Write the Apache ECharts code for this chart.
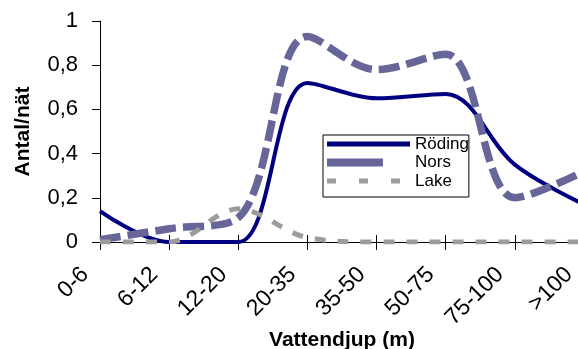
<!DOCTYPE html>
<html>
<head>
<meta charset="utf-8">
<script src="https://cdn.jsdelivr.net/npm/echarts@6/dist/echarts.min.js"></script>
<style>
  html, body { margin: 0; padding: 0; background: #fff; }
  #chart { width: 578px; height: 349px; }
</style>
</head>
<body>
<div id="chart"></div>
<script>
// Catch per net by water depth class
const depthClasses = ['0-6', '6-12', '12-20', '20-35', '35-50', '50-75', '75-100', '>100'];
const roding = [0.14, 0, 0, 0.72, 0.65, 0.67, 0.35, 0.17];
const nors   = [0.01, 0.06, 0.11, 0.93, 0.78, 0.85, 0.20, 0.32];
const lake   = [0, 0, 0.15, 0.02, 0, 0, 0, 0];
const yTickLabels = ['0', '0,2', '0,4', '0,6', '0,8', '1'];

const FONT = 'Arial, "Liberation Sans", sans-serif';
const COLORS = { roding: '#000080', nors: '#666699', lake: '#9c9c9c' };
const chart = echarts.init(document.getElementById('chart'), null, { renderer: 'canvas' });

chart.setOption({
  animation: false,
  backgroundColor: '#fff',
  textStyle: { fontFamily: FONT, color: '#000' },
  grid: { left: 100, top: 21, width: 484, height: 221, containLabel: false, outerBoundsMode: 'none' },
  legend: {
    orient: 'vertical',
    left: 323,
    top: 135,
    itemWidth: 83,
    itemHeight: 8,
    itemGap: 0.5,
    padding: [0, 0, 7, 4],
    borderColor: '#000',
    borderWidth: 1,
    borderRadius: 0,
    backgroundColor: '#fff',
    selectedMode: false,
    textStyle: { fontSize: 17, lineHeight: 18, color: '#000', fontFamily: FONT },
    data: [
      { name: 'Röding', icon: 'path://M0,1.5H83V6.5H0Z M0,0L0,0 M0,8L0,8',
        itemStyle: { color: COLORS.roding, borderWidth: 0 } },
      { name: 'Nors', icon: 'path://M0,0H56V8H0Z M83,0L83,0',
        itemStyle: { color: COLORS.nors, borderWidth: 0 } },
      { name: 'Lake', icon: 'path://M0,1.5H9V6.5H0Z M32,1.5H41V6.5H32Z M64,1.5H73V6.5H64Z M83,0L83,0 M0,8L0,8',
        itemStyle: { color: COLORS.lake, borderWidth: 0 } }
    ]
  },
  xAxis: [
    {
      type: 'category',
      data: depthClasses,
      boundaryGap: false,
      position: 'bottom',
      axisLine: { show: true, lineStyle: { color: '#000', width: 1 } },
      axisTick: { show: true, length: 8, lineStyle: { color: '#000' } },
      axisLabel: {
        interval: 0, rotate: 45, margin: 14, padding: [0, 21, 0, 0],
        fontSize: 23, color: '#000', fontFamily: FONT
      },
      splitLine: { show: false },
      name: 'Vattendjup (m)',
      nameLocation: 'middle',
      nameGap: 88,
      nameMoveOverlap: false,
      nameTextStyle: { fontSize: 21, fontWeight: 'bold', color: '#000', fontFamily: FONT }
    },
    {
      // inner half of the crossing tick marks
      type: 'category',
      data: depthClasses,
      boundaryGap: false,
      position: 'bottom',
      axisLine: { show: false },
      axisTick: { show: true, inside: true, length: 7, lineStyle: { color: '#000' } },
      axisLabel: { show: false },
      splitLine: { show: false }
    }
  ],
  yAxis: {
    type: 'value',
    min: 0,
    max: 1,
    interval: 0.2,
    axisLine: { show: true, lineStyle: { color: '#000', width: 1 } },
    axisTick: { show: true, length: 8, lineStyle: { color: '#000' } },
    axisLabel: {
      margin: 22, fontSize: 22, color: '#000', fontFamily: FONT,
      formatter: v => yTickLabels[Math.round(v / 0.2)]
    },
    splitLine: { show: false },
    name: 'Antal/nät',
    nameLocation: 'middle',
    nameGap: 66,
    nameMoveOverlap: false,
    nameTextStyle: { fontSize: 21, fontWeight: 'bold', color: '#000', fontFamily: FONT }
  },
  series: [
    {
      name: 'Röding', type: 'line', data: roding, smooth: 0.35, symbol: 'none',
      color: COLORS.roding,
      lineStyle: { color: COLORS.roding, width: 4, type: 'solid' }
    },
    {
      name: 'Nors', type: 'line', data: nors, smooth: 0.35, symbol: 'none',
      color: COLORS.nors,
      lineStyle: { color: COLORS.nors, width: 7.5, type: [21, 7], cap: 'butt' }
    },
    {
      name: 'Lake', type: 'line', data: lake, smooth: 0.35, symbol: 'none',
      color: COLORS.lake,
      lineStyle: { color: COLORS.lake, width: 5, type: [11, 12], cap: 'butt' }
    }
  ]
});
</script>
</body>
</html>
